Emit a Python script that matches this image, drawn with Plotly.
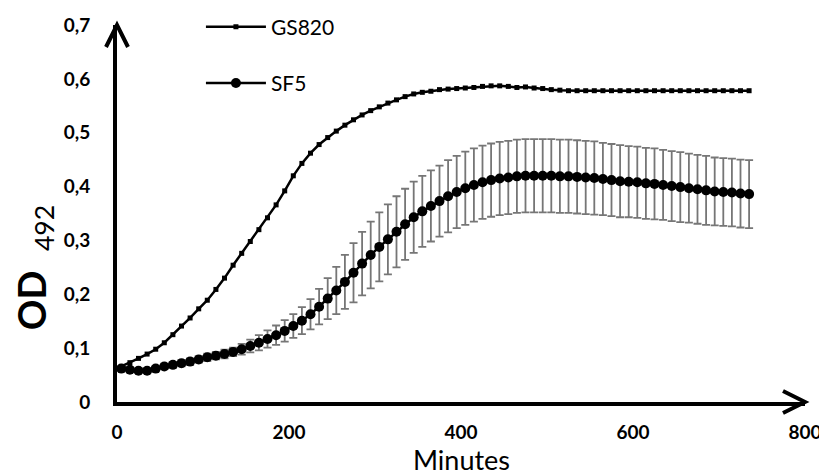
import plotly.graph_objects as go

# --- data ---
minutes = list(range(5, 740, 10))  # 5, 15, ..., 735

gs820 = [0.066, 0.073, 0.081, 0.089, 0.098, 0.110, 0.125, 0.141, 0.156, 0.173,
         0.189, 0.209, 0.230, 0.254, 0.276, 0.298, 0.320, 0.342, 0.366, 0.392,
         0.420, 0.443, 0.462, 0.478, 0.491, 0.503, 0.514, 0.524, 0.533, 0.541,
         0.548, 0.555, 0.561, 0.567, 0.572, 0.575, 0.577, 0.580, 0.581, 0.582,
         0.583, 0.584, 0.586, 0.587, 0.587, 0.586, 0.584, 0.585, 0.583, 0.582,
         0.580, 0.579, 0.578, 0.578, 0.578, 0.578, 0.578, 0.578, 0.578, 0.578,
         0.578, 0.578, 0.578, 0.578, 0.578, 0.578, 0.578, 0.578, 0.578, 0.578,
         0.578, 0.578, 0.578, 0.578]

sf5 = [0.062, 0.060, 0.058, 0.058, 0.062, 0.066, 0.069, 0.072, 0.075, 0.079,
       0.083, 0.086, 0.089, 0.093, 0.098, 0.104, 0.110, 0.117, 0.124, 0.132,
       0.141, 0.151, 0.163, 0.177, 0.192, 0.207, 0.223, 0.240, 0.257, 0.273,
       0.288, 0.302, 0.316, 0.330, 0.343, 0.354, 0.364, 0.373, 0.382, 0.390,
       0.397, 0.403, 0.408, 0.412, 0.415, 0.417, 0.419, 0.420, 0.420, 0.420,
       0.420, 0.419, 0.419, 0.418, 0.417, 0.416, 0.414, 0.412, 0.410, 0.409,
       0.408, 0.406, 0.405, 0.403, 0.401, 0.399, 0.397, 0.395, 0.393, 0.391,
       0.390, 0.389, 0.387, 0.386]

sf5_err = [0.004, 0.004, 0.004, 0.004, 0.005, 0.005, 0.005, 0.006, 0.006, 0.006,
           0.007, 0.007, 0.008, 0.008, 0.010, 0.012, 0.014, 0.016, 0.018, 0.020,
           0.022, 0.025, 0.028, 0.033, 0.038, 0.044, 0.050, 0.055, 0.059, 0.062,
           0.064, 0.065, 0.066, 0.066, 0.066, 0.066, 0.066, 0.066, 0.067, 0.067,
           0.068, 0.068, 0.068, 0.068, 0.068, 0.068, 0.068, 0.068, 0.068, 0.068,
           0.068, 0.068, 0.068, 0.068, 0.068, 0.068, 0.067, 0.067, 0.067, 0.066,
           0.066, 0.066, 0.066, 0.065, 0.065, 0.065, 0.064, 0.064, 0.064, 0.063,
           0.063, 0.063, 0.063, 0.063]

x_ticks = [0, 200, 400, 600, 800]
y_ticks = [0, 0.1, 0.2, 0.3, 0.4, 0.5, 0.6, 0.7]

FONT = "Lato"

fig = go.Figure()

fig.add_trace(go.Scatter(
    x=minutes, y=gs820, name="GS820", mode="lines+markers",
    line=dict(color="black", width=2.5),
    marker=dict(symbol="square", size=5, color="black"),
    legendgroup="a",
))

fig.add_trace(go.Scatter(
    x=minutes, y=sf5, name="SF5", mode="lines+markers",
    line=dict(color="black", width=2.5),
    marker=dict(symbol="circle", size=10, color="black"),
    error_y=dict(type="data", array=sf5_err, visible=True,
                 color="#767676", thickness=1.8, width=4),
    legendgroup="b",
))

# the page body adds an 8 px offset, so the figure is 8 px smaller
fig.update_layout(
    width=819, height=468,
    margin=dict(l=109, r=22, t=17, b=74, autoexpand=False),
    plot_bgcolor="white", paper_bgcolor="white",
    separators=",.",
    showlegend=True,
    legend=dict(
        x=0.122, y=1.049, xanchor="left", yanchor="top",
        font=dict(family=FONT, size=21, color="black"),
        itemwidth=60, tracegroupgap=26,
        bgcolor="rgba(0,0,0,0)",
    ),
    xaxis=dict(
        range=[0, 800], tickvals=x_ticks,
        showgrid=False, zeroline=False, automargin=False,
        showline=True, linecolor="black", linewidth=4,
        ticks="", ticklabelstandoff=10,
        tickfont=dict(family=FONT, size=19, color="black", weight="bold"),
    ),
    yaxis=dict(
        range=[0, 0.7], tickvals=y_ticks,
        showgrid=False, zeroline=False, automargin=False,
        showline=True, linecolor="black", linewidth=4,
        ticks="", ticklabelstandoff=19,
        tickfont=dict(family=FONT, size=19, color="black", weight="bold"),
    ),
    annotations=[
        dict(
            text="<b>OD</b>\u00a0\u00a0<sub>492</sub>",
            xref="paper", yref="paper", x=0, y=0.355,
            xanchor="center", yanchor="middle", xshift=-83,
            textangle=-90, showarrow=False,
            font=dict(family=FONT, size=38, color="black"),
        ),
        dict(
            text="Minutes",
            xref="paper", yref="paper", x=0.5, y=0,
            xanchor="center", yanchor="middle", yshift=-57,
            showarrow=False, borderpad=0,
            font=dict(family=FONT, size=27, color="black"),
        ),
    ],
    shapes=[
        dict(type="path", xref="paper", yref="paper",
             xsizemode="pixel", ysizemode="pixel", xanchor=0, yanchor=1,
             path="M-11,-22 L0,0 L11,-22",
             line=dict(color="black", width=4)),
        dict(type="path", xref="paper", yref="paper",
             xsizemode="pixel", ysizemode="pixel", xanchor=1, yanchor=0,
             path="M-22,11 L0,0 L-22,-11",
             line=dict(color="black", width=4)),
    ],
)

fig.write_html("out.html")
